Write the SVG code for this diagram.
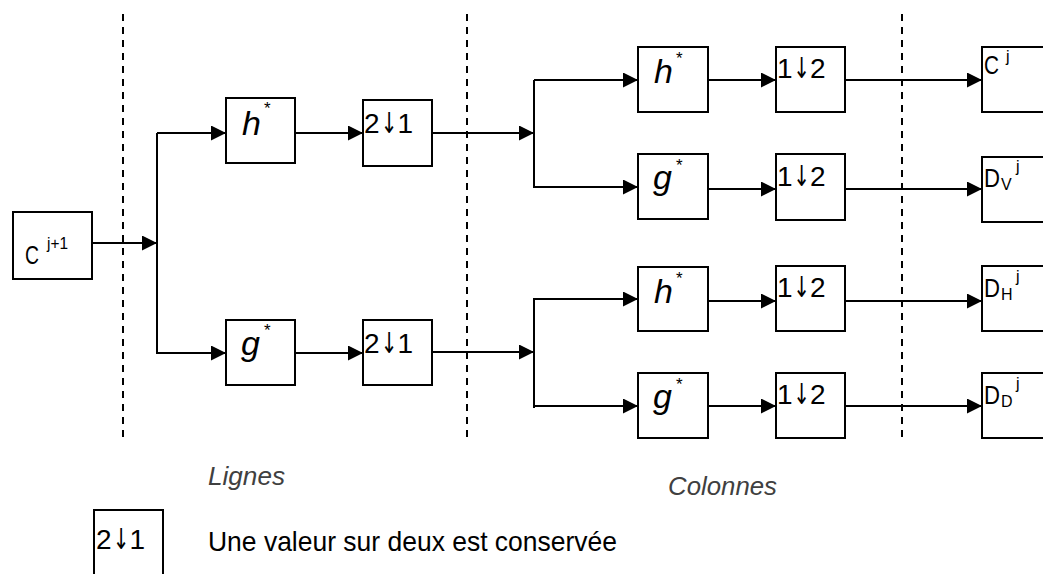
<svg xmlns="http://www.w3.org/2000/svg" width="1043" height="574" viewBox="0 0 1043 574">
<style>
.box{fill:#fff;stroke:#000;stroke-width:2}
.ln{fill:none;stroke:#000;stroke-width:2}
.dash{fill:none;stroke:#000;stroke-width:2;stroke-dasharray:7 6}
.t{font-family:"Liberation Sans",Arial,sans-serif;fill:#000}
.it{font-family:"Liberation Sans",Arial,sans-serif;font-style:italic;fill:#000;font-size:34px}
.st{font-family:"Liberation Sans",Arial,sans-serif;fill:#000;font-size:17px}
.ds{font-family:"Liberation Sans",Arial,sans-serif;fill:#000;font-size:28px}
.ar{font-family:"DejaVu Sans",sans-serif;fill:#000;font-size:20px;text-anchor:middle}
.cap{font-family:"Liberation Sans",Arial,sans-serif;font-style:italic;fill:#404040;font-size:26px}
</style>
<defs>
<marker id="ah" markerUnits="userSpaceOnUse" markerWidth="15" markerHeight="15" refX="15" refY="7.5" orient="auto">
<path d="M0,0 L15,7.5 L0,15 z" fill="#000"/>
</marker>
</defs>
<rect width="1043" height="574" fill="#fff"/>
<g id="guides">
<line class="dash" x1="123" y1="14" x2="123" y2="438"/>
<line class="dash" x1="467" y1="14" x2="467" y2="438"/>
<line class="dash" x1="902" y1="14" x2="902" y2="438"/>
</g>
<g id="connectors">
<line class="ln" x1="92" y1="243" x2="157" y2="243" stroke-width="3" marker-end="url(#ah)"/>
<line class="ln" x1="157" y1="133" x2="157" y2="354"/>
<line class="ln" x1="157" y1="133" x2="226" y2="133" marker-end="url(#ah)"/>
<line class="ln" x1="157" y1="353" x2="226" y2="353" marker-end="url(#ah)"/>
<line class="ln" x1="295" y1="133" x2="363" y2="133" marker-end="url(#ah)"/>
<line class="ln" x1="295" y1="353" x2="363" y2="353" marker-end="url(#ah)"/>
<line class="ln" x1="432" y1="133" x2="534" y2="133" marker-end="url(#ah)"/>
<line class="ln" x1="432" y1="352" x2="534" y2="352" marker-end="url(#ah)"/>
<line class="ln" x1="534" y1="80" x2="534" y2="188"/>
<line class="ln" x1="534" y1="298" x2="534" y2="408"/>
<line class="ln" x1="534" y1="80" x2="638" y2="80" marker-end="url(#ah)"/>
<line class="ln" x1="534" y1="187" x2="638" y2="187" marker-end="url(#ah)"/>
<line class="ln" x1="534" y1="299" x2="638" y2="299" marker-end="url(#ah)"/>
<line class="ln" x1="534" y1="406" x2="638" y2="406" marker-end="url(#ah)"/>
<line class="ln" x1="708" y1="80" x2="776" y2="80" marker-end="url(#ah)"/>
<line class="ln" x1="708" y1="189" x2="776" y2="189" marker-end="url(#ah)"/>
<line class="ln" x1="708" y1="301" x2="776" y2="301" marker-end="url(#ah)"/>
<line class="ln" x1="708" y1="406" x2="776" y2="406" marker-end="url(#ah)"/>
<line class="ln" x1="845" y1="80" x2="982" y2="80" marker-end="url(#ah)"/>
<line class="ln" x1="845" y1="189" x2="982" y2="189" marker-end="url(#ah)"/>
<line class="ln" x1="845" y1="301" x2="982" y2="301" marker-end="url(#ah)"/>
<line class="ln" x1="845" y1="406" x2="982" y2="406" marker-end="url(#ah)"/>
</g>
<g id="input">
<rect class="box" x="13" y="212" width="79" height="67"/>
<text class="t" x="25" y="264" font-size="26" textLength="14" lengthAdjust="spacingAndGlyphs">C</text>
<text class="t" x="47" y="249" font-size="17" textLength="21" lengthAdjust="spacingAndGlyphs">j+1</text>
</g>
<g id="h1">
<rect class="box" x="226" y="98" width="69" height="65"/>
<text class="it" x="242" y="135">h</text>
<text class="st" x="264" y="114">*</text>
</g>
<g id="g1">
<rect class="box" x="226" y="320" width="69" height="65"/>
<text class="it" x="241" y="355">g</text>
<text class="st" x="264" y="336">*</text>
</g>
<g id="d1">
<rect class="box" x="363" y="100" width="69" height="66"/>
<text class="ds" x="364" y="133">2</text>
<text class="ar" transform="translate(389,133) scale(1,1.45)">↓</text>
<text class="ds" x="397.5" y="133">1</text>
</g>
<g id="d2">
<rect class="box" x="363" y="320" width="69" height="65"/>
<text class="ds" x="364" y="353">2</text>
<text class="ar" transform="translate(389,353) scale(1,1.45)">↓</text>
<text class="ds" x="397.5" y="353">1</text>
</g>
<g id="h2">
<rect class="box" x="638" y="47" width="70" height="65"/>
<text class="it" x="654" y="83">h</text>
<text class="st" x="676" y="64">*</text>
</g>
<g id="g2">
<rect class="box" x="638" y="154" width="70" height="65"/>
<text class="it" x="653" y="189">g</text>
<text class="st" x="676" y="171">*</text>
</g>
<g id="h3">
<rect class="box" x="638" y="267" width="70" height="64"/>
<text class="it" x="654" y="303">h</text>
<text class="st" x="676" y="284">*</text>
</g>
<g id="g3">
<rect class="box" x="638" y="373" width="70" height="65"/>
<text class="it" x="653" y="408">g</text>
<text class="st" x="676" y="390">*</text>
</g>
<g id="e1">
<rect class="box" x="776" y="47" width="69" height="65"/>
<text class="ds" x="777" y="78">1</text>
<text class="ar" transform="translate(801.5,78) scale(1,1.45)">↓</text>
<text class="ds" x="810" y="78">2</text>
</g>
<g id="e2">
<rect class="box" x="776" y="154" width="69" height="66"/>
<text class="ds" x="777" y="186">1</text>
<text class="ar" transform="translate(801.5,186) scale(1,1.45)">↓</text>
<text class="ds" x="810" y="186">2</text>
</g>
<g id="e3">
<rect class="box" x="776" y="266" width="69" height="65"/>
<text class="ds" x="777" y="297">1</text>
<text class="ar" transform="translate(801.5,297) scale(1,1.45)">↓</text>
<text class="ds" x="810" y="297">2</text>
</g>
<g id="e4">
<rect class="box" x="776" y="373" width="69" height="65"/>
<text class="ds" x="777" y="404">1</text>
<text class="ar" transform="translate(801.5,404) scale(1,1.45)">↓</text>
<text class="ds" x="810" y="404">2</text>
</g>
<g id="out-c">
<rect class="box" x="982" y="47" width="80" height="65"/>
<text class="t" x="984" y="74" font-size="26" textLength="15" lengthAdjust="spacingAndGlyphs">C</text>
<text class="t" x="1006" y="62" font-size="16">j</text>
</g>
<g id="out-dv">
<rect class="box" x="982" y="157" width="80" height="65"/>
<text class="t" x="984" y="187" font-size="26" textLength="16" lengthAdjust="spacingAndGlyphs">D</text>
<text class="t" x="1001" y="190" font-size="16">V</text>
<text class="t" x="1016" y="172" font-size="16">j</text>
</g>
<g id="out-dh">
<rect class="box" x="982" y="266" width="80" height="65"/>
<text class="t" x="984" y="297" font-size="26" textLength="16" lengthAdjust="spacingAndGlyphs">D</text>
<text class="t" x="1001" y="300" font-size="16">H</text>
<text class="t" x="1016" y="282" font-size="16">j</text>
</g>
<g id="out-dd">
<rect class="box" x="982" y="373" width="80" height="65"/>
<text class="t" x="984" y="404" font-size="26" textLength="16" lengthAdjust="spacingAndGlyphs">D</text>
<text class="t" x="1001" y="407" font-size="16">D</text>
<text class="t" x="1016" y="389" font-size="16">j</text>
</g>
<g id="labels">
<text class="cap" x="208" y="485" textLength="77" lengthAdjust="spacingAndGlyphs">Lignes</text>
<text class="cap" x="668" y="495" textLength="109" lengthAdjust="spacingAndGlyphs">Colonnes</text>
</g>
<g id="legend">
<path class="ln" d="M94,580 L94,510 L163,510 L163,580"/>
<text class="ds" x="96" y="549">2</text>
<text class="ar" transform="translate(121,549) scale(1,1.45)">↓</text>
<text class="ds" x="129.5" y="549">1</text>
<text class="t" x="208" y="551" font-size="28" textLength="409" lengthAdjust="spacingAndGlyphs">Une valeur sur deux est conservée</text>
</g>
</svg>
